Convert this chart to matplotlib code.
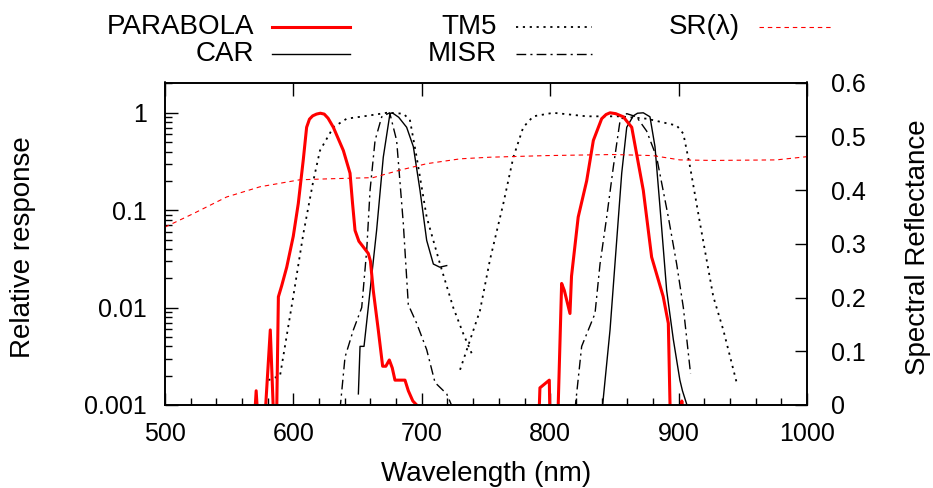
import numpy as np
import matplotlib
matplotlib.use("Agg")
import matplotlib.pyplot as plt
from matplotlib.lines import Line2D
from matplotlib.ticker import MultipleLocator, FixedLocator, LogLocator, NullFormatter

plt.rcParams['font.family'] = ['Liberation Sans', 'DejaVu Sans']

nan = np.nan
# ---- data ----
parabola_wl = [568, 571, 574, 578, 582, 585.7, 586.5, 588.3, 590.9, 594.8, 599.9, 603.8, 607.7, 610.3, 612.5,
               615, 618, 621, 624, 627,
               631.1, 638.9, 644.1, 646, 648, 651, 654.4, 658.3, 660, 662.2, 666.1, 669.5, 672, 674.7, 677, 679.1,
               686.9, 689.5, 693, 696, 698,
               nan,
               790.8, 792, 799.3, 800, 805.6, 808.9, 811, 815.4, 816.6, 821.8, 828.4, 833.6, 840.1, 843.5, 846.6,
               851, 856.9, 863.5, 872.5, 879, 888, 892, 893.8,
               nan,
               901.5, 902.5, 903.3]
parabola_val = [0.0003, 0.0014, 0.0003, 0.0008, 0.0059, 0.0003, 0.0003, 0.0129, 0.0168, 0.026, 0.054, 0.117, 0.33,
                0.71, 0.86, 0.93, 0.97, 0.99, 0.97, 0.88,
                0.71, 0.41, 0.24, 0.12, 0.062, 0.048, 0.042, 0.036, 0.030, 0.015, 0.0059, 0.0025, 0.0025,
                0.0029, 0.0024, 0.0018, 0.0018, 0.0014, 0.0011, 0.001, 0.0008,
                nan,
                0.0005, 0.0015, 0.0018, 0.0005, 0.0005, 0.0177, 0.015, 0.0087, 0.021, 0.085, 0.20, 0.52, 0.87, 0.96,
                1.0, 0.98, 0.91, 0.71, 0.16, 0.033, 0.013, 0.0069, 0.0005,
                nan,
                0.0005, 0.0011, 0.0005]

car_wl = [650.6, 651.9, 655, 658.3, 664.8, 670, 675.2, 677, 682, 688.2, 693.4, 698.6, 703.8, 709, 714, 719.4,
          nan,
          840.1, 846.6, 851.8, 855.7, 859.6, 864.7, 868, 872.5, 877.7, 881.6, 885.5, 890.7, 895.9, 901, 903, 907.6]
car_val = [0.0013, 0.004, 0.004, 0.010, 0.062, 0.35, 0.98, 1.0, 0.9, 0.71, 0.45, 0.16, 0.049, 0.028, 0.026, 0.027,
           nan,
           0.0008, 0.0059, 0.049, 0.24, 0.71, 0.93, 0.99, 1.0, 0.91, 0.45, 0.108, 0.015, 0.0047, 0.0018, 0.0014, 0.0009]

tm5_wl = [580.5, 589.6, 599.9, 607.7, 615.5, 620.7, 631.1, 641.5, 657.1, 672.7, 685.5, 690.7, 696, 703.8, 714.2,
          724.5, 732.3, 740.1,
          nan,
          729.8, 745.3, 753.1, 763.5, 771.3, 779, 786.8, 802.4, 828.4, 854, 875.1, 898.5, 903.7, 908.9, 916.7,
          927, 934.8, 945.2]
tm5_val = [0.0018, 0.0020, 0.013, 0.057, 0.20, 0.41, 0.71, 0.87, 0.93, 1.0, 0.98, 0.85, 0.35, 0.085, 0.028,
           0.010, 0.0054, 0.0031,
           nan,
           0.0023, 0.0093, 0.031, 0.117, 0.35, 0.71, 0.92, 1.0, 0.92, 0.92, 0.87, 0.74, 0.61, 0.28, 0.073,
           0.013, 0.0059, 0.0017]

misr_wl = [636.3, 640.2, 646.7, 653.2, 657.1, 659.7, 663.6, 668.8, 675, 680.4, 685.6, 689.5, 696, 703.8, 710.3,
           719.4, 724.6,
           nan,
           819.3, 824.5, 834.9, 838.8, 844, 849.2, 854.4, 859.6, 867.2, 875.1, 882.9, 892, 898.5, 903.7, 909.3]
misr_val = [0.0009, 0.0031, 0.0059, 0.010, 0.039, 0.16, 0.52, 0.91, 1.0, 0.52, 0.073, 0.0107, 0.0069, 0.0037,
            0.0017, 0.0013, 0.0009,
            nan,
            0.0009, 0.004, 0.0087, 0.028, 0.085, 0.28, 0.83, 0.98, 0.91, 0.65, 0.35, 0.085, 0.028, 0.010, 0.0021]

sr_wl = [500, 522, 548, 574, 605, 630, 662, 683, 704, 730, 753, 797, 849, 880, 901, 927, 976, 1000]
sr_val = [0.331, 0.356, 0.387, 0.406, 0.419, 0.421, 0.423, 0.437, 0.449, 0.458, 0.461, 0.464, 0.466, 0.464,
          0.456, 0.455, 0.456, 0.462]

x_ticks = [500, 600, 700, 800, 900, 1000]
y_ticks = [0.001, 0.01, 0.1, 1]
y_ticklabels = ['0.001', '0.01', '0.1', '1']
y2_ticks = [0, 0.1, 0.2, 0.3, 0.4, 0.5, 0.6]
y2_ticklabels = ['0', '0.1', '0.2', '0.3', '0.4', '0.5', '0.6']

FS = 18     # tick labels
FL = 20     # axis labels and legend
W, H = 933, 488
fig = plt.figure(figsize=(W / 100, H / 100), dpi=100)
L, R, T, B = 165, 807, 82.5, 405
ax = fig.add_axes([L / W, 1 - B / H, (R - L) / W, (B - T) / H])
ax2 = ax.twinx()

s_par = dict(color='red', lw=2.2, solid_joinstyle='round')
s_car = dict(color='black', lw=1.0)
s_tm5 = dict(color='black', lw=1.3, linestyle=(0, (1.2, 2.6)))
s_misr = dict(color='black', lw=1.0, linestyle=(0, (7, 3, 1.5, 3)))
s_sr = dict(color='red', lw=0.8, linestyle=(0, (4, 3.5)))

ax.plot(car_wl, car_val, **s_car)
ax.plot(tm5_wl, tm5_val, **s_tm5)
ax.plot(misr_wl, misr_val, **s_misr)
ax.plot(parabola_wl, parabola_val, **s_par)
ax2.plot(sr_wl, sr_val, **s_sr)

ax.set_yscale('log')
ax.set_xlim(500, 1000)
ax.set_ylim(0.001, 10 ** (-3 + (B - T) / 97.4))
ax2.set_ylim(0, 0.6)

ax.xaxis.set_major_locator(FixedLocator(x_ticks))
ax.xaxis.set_minor_locator(MultipleLocator(20))
ax.set_xticklabels([str(v) for v in x_ticks])
ax.yaxis.set_major_locator(FixedLocator(y_ticks))
ax.set_yticklabels(y_ticklabels)
ax.yaxis.set_minor_locator(LogLocator(base=10, subs=np.arange(2, 10), numticks=20))
ax.yaxis.set_minor_formatter(NullFormatter())
ax2.yaxis.set_major_locator(FixedLocator(y2_ticks))
ax2.set_yticklabels(y2_ticklabels)

ax.tick_params(axis='x', which='major', direction='in', length=9, width=1, top=True, labelsize=FS, pad=12)
ax.tick_params(axis='x', which='minor', direction='in', length=5, width=1, top=False)
ax.tick_params(axis='y', which='major', direction='in', length=9, width=1, right=False, labelsize=FS, pad=13)
ax.tick_params(axis='y', which='minor', direction='in', length=5, width=1, right=False)
ax2.tick_params(axis='y', which='major', direction='in', length=9, width=1, labelsize=FS, pad=17)

for a in (ax, ax2):
    for sp in a.spines.values():
        sp.set_linewidth(1.2)

ax.set_xlabel('Wavelength (nm)', fontsize=FL, va='center')
ax.xaxis.set_label_coords(0.5, (B - 474) / (B - T))
ax.set_ylabel('Relative response', fontsize=FL, va='center')
ax.yaxis.set_label_coords((23 - L) / (R - L), 0.49)
ax2.set_ylabel('Spectral Reflectance', fontsize=FL, va='center')
ax2.yaxis.set_label_coords((918 - L) / (R - L), 0.49)

# ---- legend, gnuplot style (right-aligned text, sample to its right) ----
entries = [
    ('PARABOLA', s_par, 254, 272, 350, 27),
    ('CAR', s_car, 254, 272, 350, 54),
    ('TM5', s_tm5, 497, 516, 592, 27),
    ('MISR', s_misr, 497, 516, 592, 54),
    ('SR(λ)', s_sr, 740, 759, 832, 27),
]
for label, st, tx, x0, x1, yy in entries:
    fig.text(tx / W, 1 - yy / H, label, ha='right', va='center', fontsize=FL)
    fig.add_artist(Line2D([x0 / W, x1 / W], [1 - yy / H, 1 - yy / H], transform=fig.transFigure, **st))

fig.savefig('out.png', dpi=100)
